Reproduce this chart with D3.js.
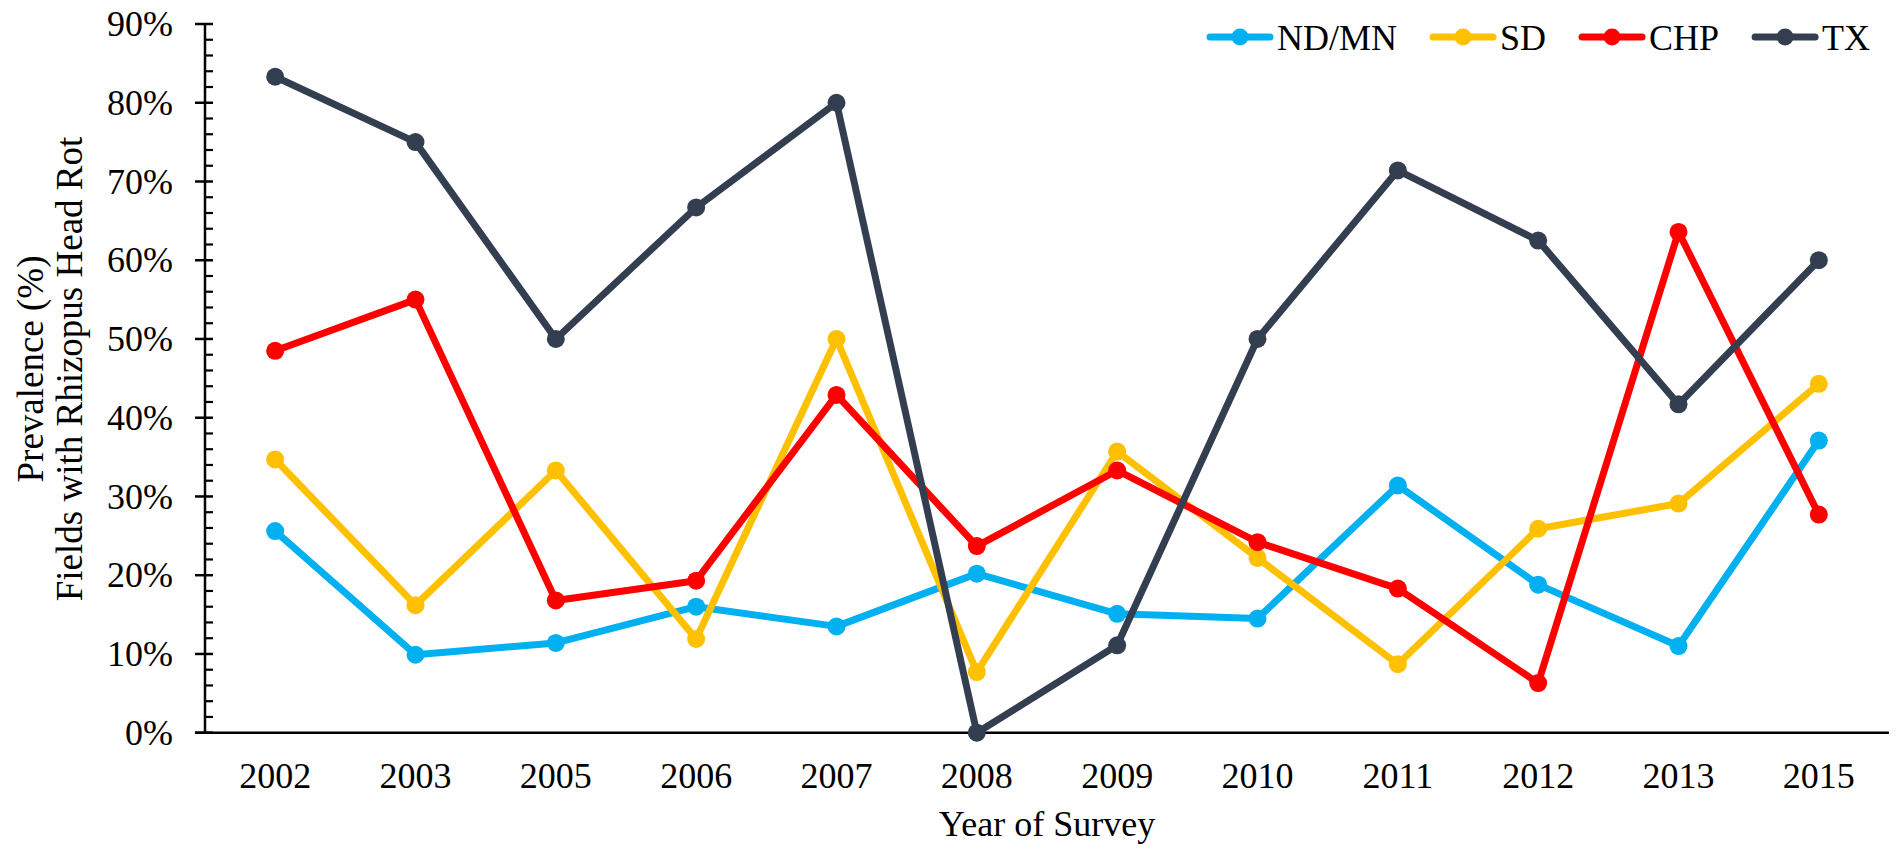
<!DOCTYPE html>
<html>
<head>
<meta charset="utf-8">
<script src="https://cdn.jsdelivr.net/npm/d3@7"></script>
<style>
  html, body { margin: 0; padding: 0; background: #fff; }
  svg { display: block; font-family: "Liberation Serif", "Times New Roman", serif; }
</style>
</head>
<body>
<svg id="chart" width="1898" height="849"></svg>
<script>
// Survey years (categorical axis)
const years = ["2002", "2003", "2005", "2006", "2007", "2008", "2009", "2010", "2011", "2012", "2013", "2015"];

// Prevalence (%) of fields with Rhizopus head rot, by region
const ndmn = [25.6, 9.9, 11.4, 16.0, 13.5, 20.2, 15.1, 14.5, 31.4, 18.8, 11.0, 37.1];
const sd   = [34.7, 16.2, 33.3, 11.9, 50.0, 7.7, 35.7, 22.2, 8.7, 25.9, 29.1, 44.3];
const chp  = [48.5, 55.0, 16.8, 19.3, 42.9, 23.7, 33.3, 24.2, 18.3, 6.3, 63.6, 27.7];
const tx   = [83.3, 75.0, 50.0, 66.7, 80.0, 0.0, 11.1, 50.0, 71.4, 62.5, 41.7, 60.0];

const seriesNames = ["ND/MN", "SD", "CHP", "TX"];
const seriesColors = ["#00B0F0", "#FFC000", "#FF0000", "#333F50"];
const seriesValues = [ndmn, sd, chp, tx];

// Y-axis ticks (percent)
const yMajorTicks = [0, 10, 20, 30, 40, 50, 60, 70, 80, 90];
const yMinorTicks = d3.range(0, 90.01, 2).filter(v => v % 10 !== 0);

const svg = d3.select("#chart");

const plot = { left: 205, right: 1889, top: 24, bottom: 732.7 };

const x = d3.scalePoint().domain(years).range([plot.left, plot.right]).padding(0.5);
const y = d3.scaleLinear().domain([0, 90]).range([plot.bottom, plot.top]);

// Axes
const axisColor = "#000";
const g = svg.append("g");

// Y axis line
g.append("line")
  .attr("x1", plot.left).attr("x2", plot.left)
  .attr("y1", y(90)).attr("y2", y(0))
  .attr("stroke", axisColor).attr("stroke-width", 2.5);

// Major ticks cross the axis, minor ticks sit inside
g.selectAll(".ymajor").data(yMajorTicks).join("line")
  .attr("x1", plot.left - 10).attr("x2", plot.left + 8)
  .attr("y1", d => y(d)).attr("y2", d => y(d))
  .attr("stroke", axisColor).attr("stroke-width", 2.5);
g.selectAll(".yminor").data(yMinorTicks).join("line")
  .attr("x1", plot.left).attr("x2", plot.left + 8)
  .attr("y1", d => y(d)).attr("y2", d => y(d))
  .attr("stroke", axisColor).attr("stroke-width", 2.2);

// Y tick labels
g.selectAll(".ylab").data(yMajorTicks).join("text")
  .attr("x", 173).attr("y", d => y(d))
  .attr("dy", "0.34em")
  .attr("text-anchor", "end")
  .attr("font-size", 36).attr("fill", "#000")
  .text(d => d + "%");

// X axis line
g.append("line")
  .attr("x1", plot.left - 10).attr("x2", plot.right)
  .attr("y1", y(0)).attr("y2", y(0))
  .attr("stroke", axisColor).attr("stroke-width", 2.5);

// X tick labels
g.selectAll(".xlab").data(years).join("text")
  .attr("x", d => x(d)).attr("y", 788)
  .attr("text-anchor", "middle")
  .attr("font-size", 36).attr("fill", "#000")
  .text(d => d);

// Axis titles
svg.append("text")
  .attr("x", (plot.left + plot.right) / 2).attr("y", 836)
  .attr("text-anchor", "middle")
  .attr("font-size", 36).attr("fill", "#000")
  .text("Year of Survey");

const yTitle = svg.append("text")
  .attr("transform", "translate(0, 369) rotate(-90)")
  .attr("text-anchor", "middle")
  .attr("font-size", 37).attr("fill", "#000");
yTitle.append("tspan").attr("x", 0).attr("y", 43).text("Prevalence (%)");
yTitle.append("tspan").attr("x", 0).attr("y", 82).text("Fields with Rhizopus Head Rot");

// Series lines and markers
const line = d3.line()
  .x((d, i) => x(years[i]))
  .y(d => y(d));

seriesValues.forEach((vals, si) => {
  const sg = svg.append("g").attr("class", "series");
  sg.append("path")
    .datum(vals)
    .attr("d", line)
    .attr("fill", "none")
    .attr("stroke", seriesColors[si])
    .attr("stroke-width", 7)
    .attr("stroke-linejoin", "round")
    .attr("stroke-linecap", "round");
  sg.selectAll("circle").data(vals).join("circle")
    .attr("cx", (d, i) => x(years[i]))
    .attr("cy", d => y(d))
    .attr("r", 9)
    .attr("fill", seriesColors[si]);
});

// Legend (top right)
const legend = svg.append("g");
const legendY = 37;
let lx = 1207;
seriesNames.forEach((name, si) => {
  const item = legend.append("g");
  item.append("line")
    .attr("x1", lx + 3).attr("x2", lx + 63)
    .attr("y1", legendY).attr("y2", legendY)
    .attr("stroke", seriesColors[si])
    .attr("stroke-width", 7)
    .attr("stroke-linecap", "round");
  item.append("circle")
    .attr("cx", lx + 33).attr("cy", legendY).attr("r", 8.5)
    .attr("fill", seriesColors[si]);
  const t = item.append("text")
    .attr("x", lx + 70).attr("y", 50)
    .attr("font-size", 36).attr("fill", "#000")
    .text(name);
  lx = lx + 70 + t.node().getComputedTextLength() + 33;
});
</script>
</body>
</html>
